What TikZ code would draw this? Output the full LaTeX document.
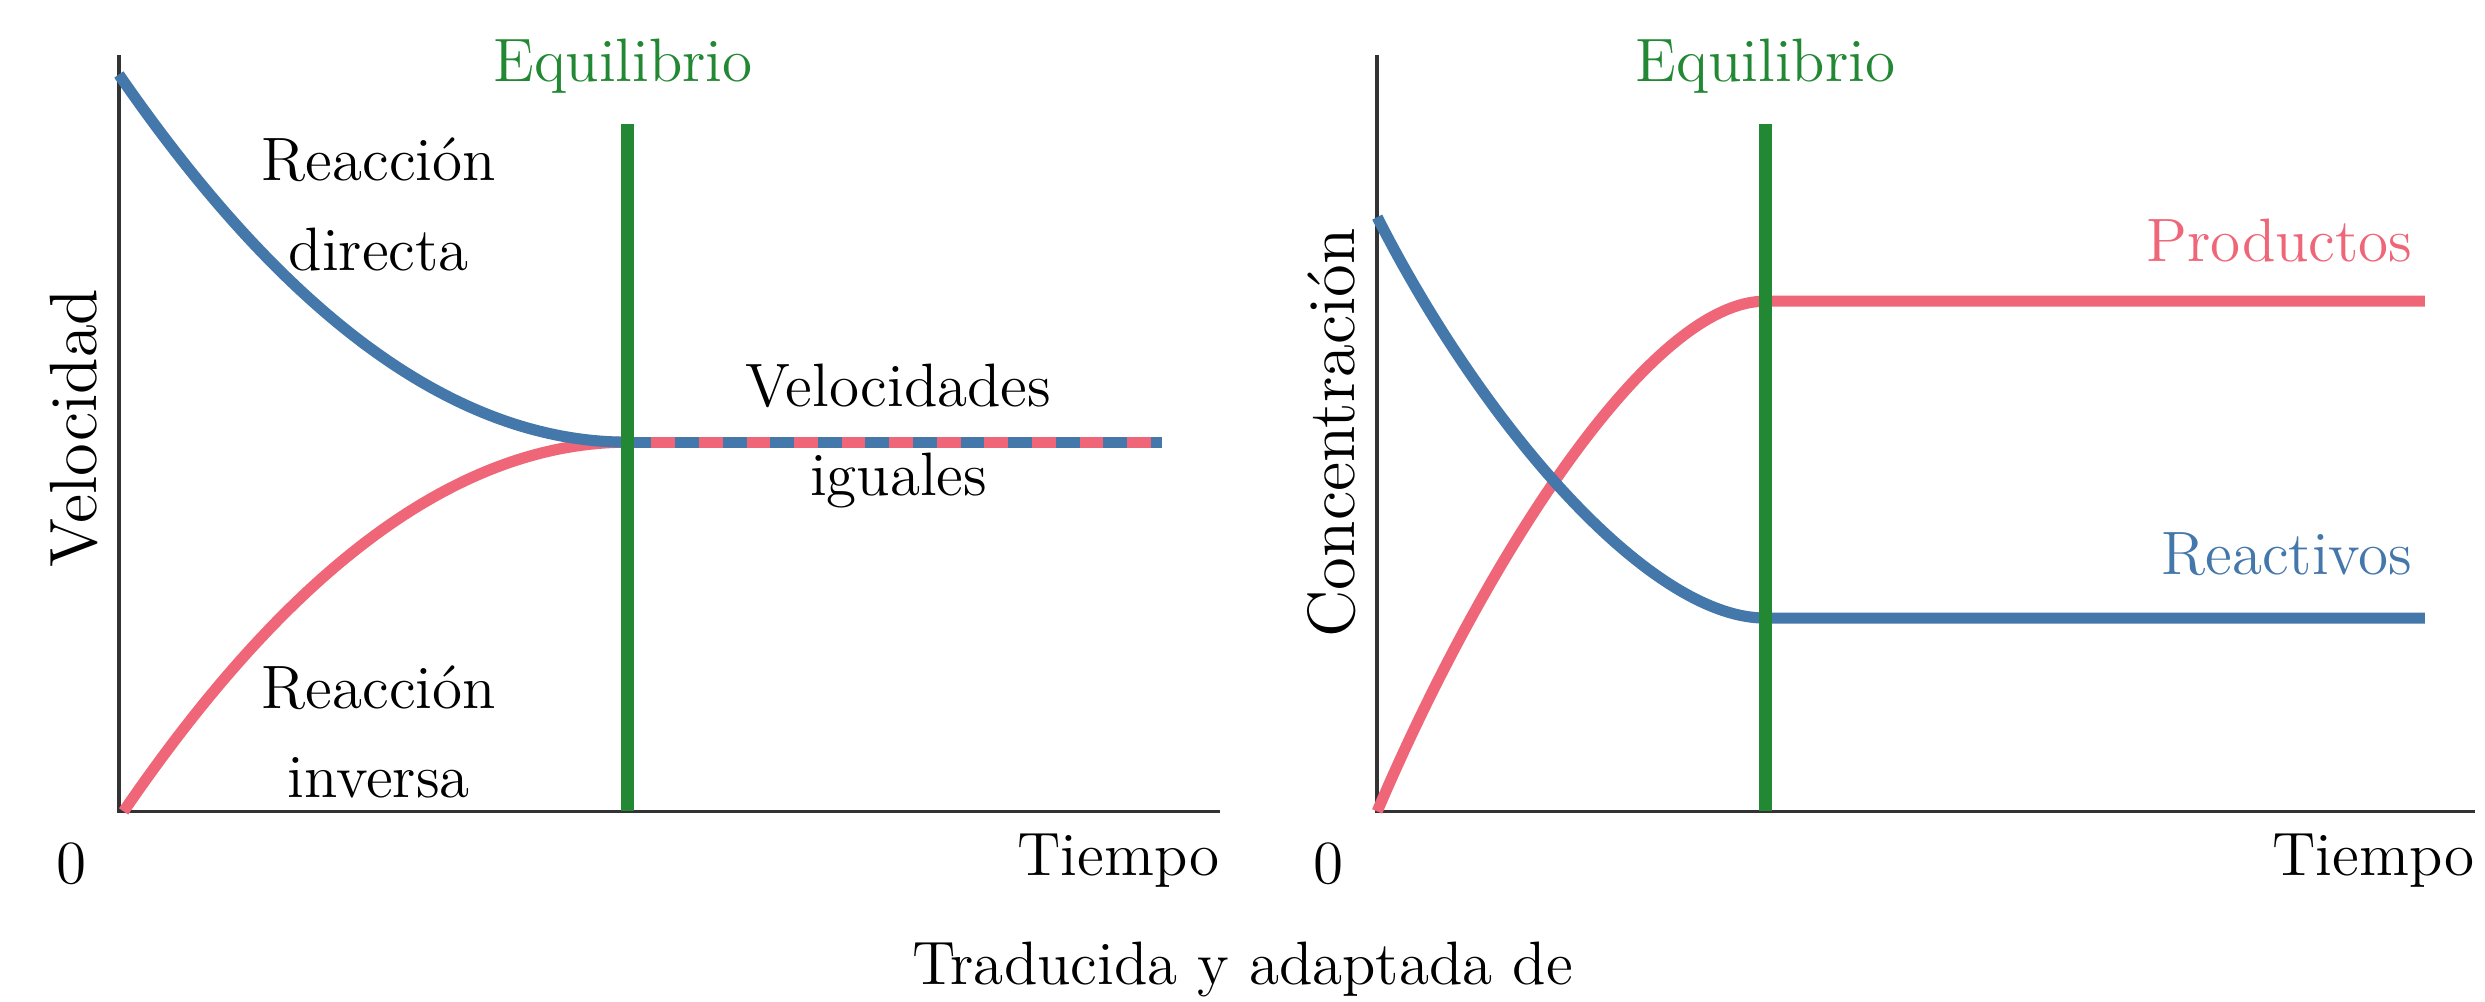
\documentclass[tikz,border=0pt]{standalone}
\usetikzlibrary{positioning}
\definecolor{azul}{HTML}{4477AA}
\definecolor{rosa}{HTML}{EE6677}
\definecolor{verde}{HTML}{228833}
\definecolor{grisEje}{HTML}{333333}

\begin{document}
\begin{tikzpicture}[x=0.01cm,y=0.01cm,
  eje/.style={draw=grisEje,line width=0.65pt},
  curva/.style={line width=2pt},
  equil/.style={draw=verde,line width=2.2pt},
  txt/.style={font=\fontsize{11}{16}\selectfont,align=center,inner sep=0pt},
  ejetxt/.style={font=\fontsize{12}{15}\selectfont,inner sep=0pt}]
\useasboundingbox (0,0) rectangle (1568,632);

% grafica de velocidades
\coordinate (vTop) at (75,597);
\coordinate (vO) at (75,120);
\coordinate (vEnd) at (770,120);
\coordinate (vEqTop) at (396,554);
\coordinate (vEqBot) at (396,120);
\coordinate (vDir) at (75,585);
\coordinate (vInv) at (78,120);
\coordinate (vMeet) at (396,353);
\coordinate (vFin) at (733,353);
\draw[eje] (vTop) -- (vO) -- (vEnd);
\draw[rosa,curva] (vInv) .. controls (184,275) and (290,353) .. (vMeet);
\draw[azul,curva] (vDir) .. controls (182,430) and (289,353) .. (vMeet);
\draw[rosa,curva] (vMeet) -- (vFin);
\draw[azul,curva,dash pattern=on 0.15cm off 0.15cm] (vMeet) -- (vFin);
\draw[equil] (vEqBot) -- (vEqTop);
\node[txt,text=verde] (eqA) at (393,590) {Equilibrio};
\node[txt] (dir) at (239,503) {Reacción\\directa};
\node[txt] (igu) at (567,357) {Velocidades\\iguales};
\node[txt] (inv) at (239,170) {Reacción\\inversa};
\node[txt,anchor=east] (tA) at (770,89) {Tiempo};
\node[txt] (ceroA) at (45,87) {0};
\node[ejetxt,rotate=90] (velA) at (47,362) {Velocidad};

% grafica de concentraciones
\coordinate (cTop) at (869,597);
\coordinate (cO) at (869,120);
\coordinate (cEnd) at (1562,120);
\coordinate (cEqTop) at (1114,554);
\coordinate (cEqBot) at (1114,120);
\coordinate (rIni) at (869,495);
\coordinate (rEq) at (1114,242);
\coordinate (rFin) at (1530,242);
\coordinate (pIni) at (869,120);
\coordinate (pEq) at (1114,442);
\coordinate (pFin) at (1530,442);
\draw[eje] (cTop) -- (cO) -- (cEnd);
\draw[rosa,curva] (pIni) .. controls (935,275) and (1040,442) .. (pEq) -- (pFin);
\draw[azul,curva] (rIni) .. controls (935,365) and (1040,242) .. (rEq) -- (rFin);
\draw[equil] (cEqBot) -- (cEqTop);
\node[txt,text=verde] (eqB) at (1114,590) {Equilibrio};
\node[txt,text=rosa,anchor=east] (prod) at (1523,480) {Productos};
\node[txt,text=azul,anchor=east] (reac) at (1523,282) {Reactivos};
\node[txt,anchor=east] (tB) at (1562,89) {Tiempo};
\node[txt] (ceroB) at (838,87) {0};
\node[ejetxt,rotate=90] (conc) at (840,359) {Concentración};

\node[txt] (fuente) at (784,20) {Traducida y adaptada de};
\end{tikzpicture}
\end{document}
